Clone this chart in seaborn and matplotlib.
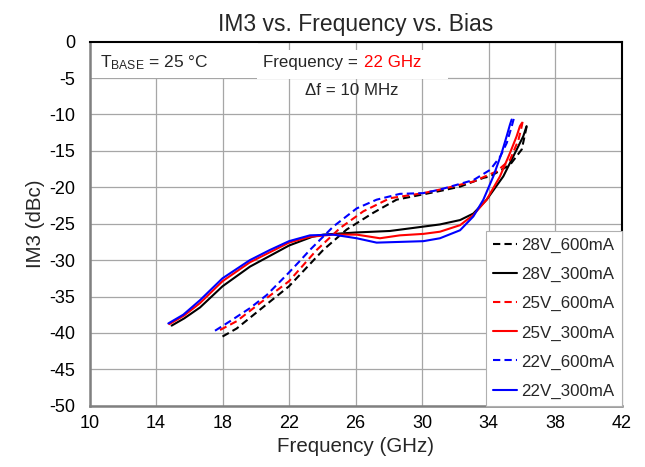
import numpy as np
import pandas as pd
import matplotlib
matplotlib.use("Agg")
import matplotlib.pyplot as plt
from matplotlib.patches import Rectangle
import seaborn as sns

# ── Data ──────────────────────────────────────────────────────────────────────
SERIES = ["28V_600mA", "28V_300mA", "25V_600mA", "25V_300mA", "22V_600mA", "22V_300mA"]
COLORS = {
    "28V_600mA": "black", "28V_300mA": "black",
    "25V_600mA": "#ff0000", "25V_300mA": "#ff0000",
    "22V_600mA": "#0000ff", "22V_300mA": "#0000ff",
}

X_28V_600 = [18.0, 18.85, 20.26, 22.0, 22.66, 24.06, 25.47, 27.07, 28.47, 30.0, 31.1, 32.3, 33.7,
             34.1, 35.3, 36.0, 36.3]
Y_28V_600 = [-40.5, -39.4, -36.8, -33.6, -32.0, -28.6, -25.8, -23.5, -21.7, -21.0, -20.5, -19.9, -18.7,
             -18.5, -16.9, -14.8, -11.6]

X_28V_300 = [14.94, 15.7, 16.65, 18.0, 19.65, 22.0, 23.4, 24.06, 26.07, 28.07, 30.08, 31.08, 32.29,
             33.09, 33.89, 34.89, 35.59, 36.09, 36.29]
Y_28V_300 = [-39.0, -38.0, -36.5, -33.6, -30.9, -28.0, -26.8, -26.5, -26.2, -26.0, -25.4, -25.1, -24.5,
             -23.6, -21.7, -18.5, -15.3, -13.0, -11.6]

X_25V_600 = [17.85, 18.85, 20.26, 22.0, 22.66, 23.67, 25.07, 26.47, 28.07, 30.08, 31.1, 33.1, 34.5,
             35.3, 35.8, 36.0, 36.05]
Y_25V_600 = [-39.6, -38.4, -35.9, -32.9, -31.2, -28.6, -25.6, -23.3, -21.5, -20.8, -20.3, -19.2, -17.8,
             -16.2, -13.5, -11.6, -11.0]

X_25V_300 = [14.8, 15.7, 16.65, 18.0, 19.65, 22.0, 23.26, 24.66, 26.07, 27.47, 28.67, 30.08, 31.08,
             32.29, 33.09, 33.89, 34.69, 35.29, 35.69, 35.89, 36.0]
Y_25V_300 = [-38.8, -37.6, -35.9, -32.9, -30.3, -27.6, -26.8, -26.5, -26.5, -27.0, -26.6, -26.4, -26.1,
             -25.2, -23.8, -21.7, -18.5, -15.3, -13.0, -11.6, -11.2]

X_22V_600 = [17.55, 18.45, 19.65, 20.66, 22.0, 22.66, 23.26, 24.66, 26.07, 27.27, 28.67, 30.08, 31.1,
             33.1, 34.1, 34.7, 35.1, 35.4, 35.53]
Y_22V_600 = [-39.7, -38.4, -36.6, -34.8, -31.7, -30.1, -28.6, -25.4, -22.9, -21.7, -20.9, -20.8, -20.3,
             -19.0, -17.6, -15.8, -13.9, -11.6, -10.5]

X_22V_300 = [14.74, 15.64, 16.65, 18.0, 19.65, 20.86, 22.0, 23.26, 24.66, 26.07, 27.27, 28.67, 30.08,
             31.08, 32.29, 33.09, 33.69, 34.29, 34.79, 35.09, 35.29, 35.39]
Y_22V_300 = [-38.7, -37.5, -35.5, -32.5, -30.0, -28.6, -27.4, -26.6, -26.5, -27.0, -27.6, -27.5, -27.4,
             -27.0, -25.9, -24.0, -21.7, -18.5, -15.3, -13.0, -11.4, -10.7]

X_TICKS = list(range(10, 43, 4))
Y_TICKS = list(range(-50, 1, 5))

CURVES = {
    "28V_600mA": (X_28V_600, Y_28V_600),
    "28V_300mA": (X_28V_300, Y_28V_300),
    "25V_600mA": (X_25V_600, Y_25V_600),
    "25V_300mA": (X_25V_300, Y_25V_300),
    "22V_600mA": (X_22V_600, Y_22V_600),
    "22V_300mA": (X_22V_300, Y_22V_300),
}


def build_frame():
    parts = []
    for name in SERIES:
        xs, ys = CURVES[name]
        parts.append(pd.DataFrame({"x": xs, "y": ys, "series": name}))
    return pd.concat(parts, ignore_index=True)


def main():
    sns.set_theme(style="white")
    plt.rcParams.update({
        "font.family": ["Liberation Sans", "DejaVu Sans"],
        "mathtext.fontset": "custom",
        "mathtext.rm": "Liberation Sans",
        "mathtext.it": "Liberation Sans:italic",
        "axes.unicode_minus": False,
    })

    df = build_frame()
    dashes = {s: ((3.5, 2) if s.endswith("600mA") else "") for s in SERIES}

    fig = plt.figure(figsize=(6.45, 4.67), dpi=100)
    ax = fig.add_axes([89.5 / 645, 61.3 / 467, 532 / 645, 364 / 467])

    sns.lineplot(
        data=df, x="x", y="y", hue="series", style="series",
        hue_order=SERIES, style_order=SERIES, palette=COLORS, dashes=dashes,
        estimator=None, sort=False, linewidth=1.5, ax=ax,
    )

    ax.set_xlim(10, 42)
    ax.set_ylim(-50, 0)
    ax.set_xticks(X_TICKS)
    ax.set_yticks(Y_TICKS)
    ax.grid(True, color="#a6a6a6", linewidth=0.9)
    ax.set_axisbelow(True)
    ax.tick_params(axis="both", length=0, labelsize=13, colors="black")
    ax.tick_params(axis="x", pad=7)
    ax.tick_params(axis="y", pad=10)

    for side in ("left", "bottom"):
        ax.spines[side].set_color("#808080")
        ax.spines[side].set_linewidth(1.8)
    for side in ("top", "right"):
        ax.spines[side].set_color("black")
        ax.spines[side].set_linewidth(1.5)

    ax.set_title("IM3 vs. Frequency vs. Bias", fontsize=16.5, pad=8)
    ax.set_xlabel("Frequency (GHz)", fontsize=14.8, labelpad=3)
    ax.set_ylabel("IM3 (dBc)", fontsize=14.8, labelpad=3)

    # white boxes behind the annotations
    ax.add_patch(Rectangle((0, 0.900), 0.317, 0.100, transform=ax.transAxes,
                           facecolor="white", edgecolor="none", zorder=1.5))
    ax.add_patch(Rectangle((0.315, 0.897), 0.359, 0.080, transform=ax.transAxes,
                           facecolor="white", edgecolor="none", zorder=1.5))

    ax.text(13.88, -2.9, r"T$_{\rm BASE}$ = 25 °C", ha="center", va="center",
            fontsize=12.5, zorder=3)
    ax.text(26.15, -2.86, "Frequency =", ha="right", va="center", fontsize=12.2, zorder=3)
    ax.annotate("22 GHz", xy=(26.15, -2.86), xytext=(4.5, 0), textcoords="offset points",
                ha="left", va="center", fontsize=12.2, color="#ff0000", zorder=3)
    ax.text(25.76, -6.7, "Δf = 10 MHz", ha="center", va="center", fontsize=12.2, zorder=3)

    handles, labels = ax.get_legend_handles_labels()
    leg = ax.legend(
        handles, labels, loc="lower right", borderaxespad=0, fontsize=12.2,
        frameon=True, fancybox=False, framealpha=1, edgecolor="#b0b0b0",
        borderpad=0.42, labelspacing=0.82, handlelength=1.4, handletextpad=0.25,
    )
    leg.get_frame().set_linewidth(0.8)

    fig.savefig("out.png", dpi=100)
    plt.close(fig)


if __name__ == "__main__":
    main()
